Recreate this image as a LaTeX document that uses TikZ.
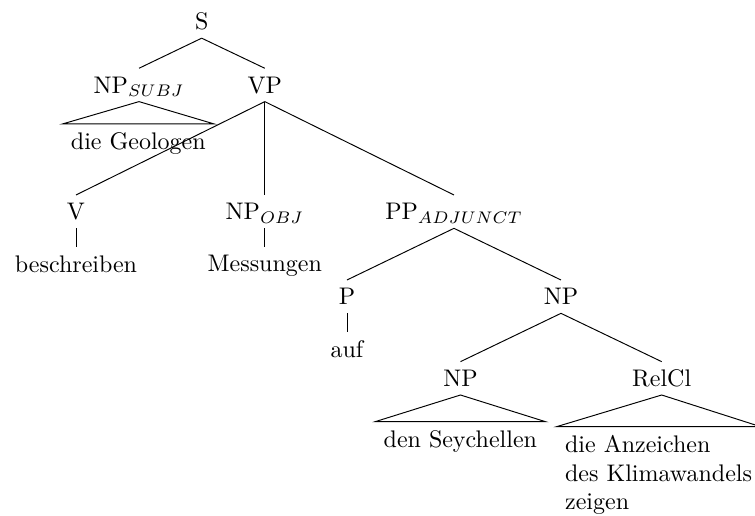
\documentclass[tikz,border=0pt]{standalone}
\usepackage{amsmath,amsfonts}
\usepackage{tikz}

\begin{document}
\begin{tikzpicture}[cat/.style={anchor=north,text height=6.83pt,text depth=0pt},
  leaf/.style={anchor=north}]
\useasboundingbox (0,0) rectangle (11.058,7.557);
\node[cat] (s) at (2.954,7.486) {S};
\node[cat] (npsubj) at (2.036,6.557) {NP$_{SUBJ}$};
\node[cat] (vp) at (3.878,6.557) {VP};
\node[cat] (v) at (1.113,4.701) {V};
\node[cat] (npobj) at (3.878,4.701) {NP$_{OBJ}$};
\node[cat] (pp) at (6.649,4.701) {PP$_{ADJUNCT}$};
\node[cat] (p) at (5.082,3.456) {P};
\node[cat] (np) at (8.216,3.456) {NP};
\node[cat] (npsey) at (6.744,2.260) {NP};
\node[cat] (relcl) at (9.691,2.260) {RelCl};
\node[leaf] (geologen) at (2.026,5.741) {die Geologen};
\node[leaf] (beschreiben) at (1.113,3.940) {beschreiben};
\node[leaf] (messungen) at (3.878,3.940) {Messungen};
\node[leaf] (auf) at (5.082,2.695) {auf};
\node[leaf] (seychellen) at (6.742,1.381) {den Seychellen};
\node[leaf,anchor=north west,align=left] (anzeichen) at (8.153,1.308) {die Anzeichen\\des Klimawandels\\zeigen};
\draw (s.south)--(npsubj.north);
\draw (s.south)--(vp.north);
\draw (npsubj.south)--(geologen.north west)--(geologen.north east)--cycle;
\draw (vp.south)--(v.north);
\draw (vp.south)--(npobj.north);
\draw (vp.south)--(pp.north);
\draw (v.south)--(beschreiben.north);
\draw (npobj.south)--(messungen.north);
\draw (pp.south)--(p.north);
\draw (pp.south)--(np.north);
\draw (p.south)--(auf.north);
\draw (np.south)--(npsey.north);
\draw (np.south)--(relcl.north);
\draw (npsey.south)--(seychellen.north west)--(seychellen.north east)--cycle;
\draw (relcl.south)--(anzeichen.north west)--(anzeichen.north east)--cycle;
\end{tikzpicture}
\end{document}
